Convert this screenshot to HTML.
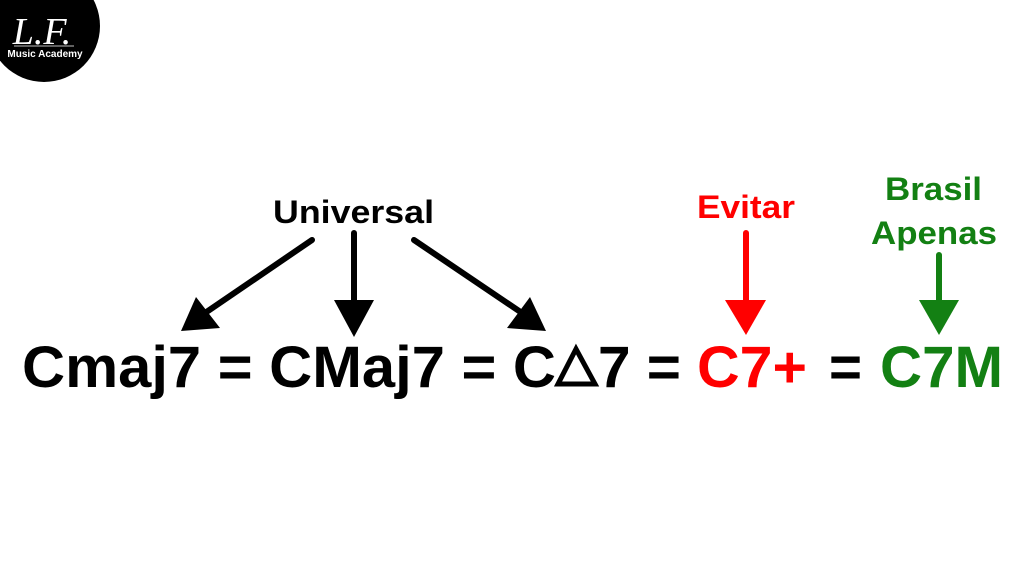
<!DOCTYPE html>
<html><head><style>
html,body{margin:0;padding:0;background:#fff;}
svg{display:block;}
text{font-family:"Liberation Sans",Arial,"DejaVu Sans",sans-serif;font-weight:bold;}
</style></head><body>
<svg width="1024" height="576" viewBox="0 0 1024 576" xmlns="http://www.w3.org/2000/svg">
<rect width="1024" height="576" fill="#fff"/>
<circle cx="44" cy="26" r="56" fill="#000"/>
<text x="42" y="44" font-size="38" fill="#fff" text-anchor="middle" style="font-family:'Liberation Serif',serif;font-weight:normal;font-style:italic">L.F.</text>
<line x1="14" y1="46" x2="74" y2="46" stroke="#fff" stroke-width="0.8"/>
<text x="45" y="57" font-size="10" fill="#fff" text-anchor="middle">Music Academy</text>

<g stroke="#000" stroke-width="6" stroke-linecap="round">
<line x1="312" y1="240" x2="205" y2="313"/>
<line x1="354" y1="233" x2="354" y2="305"/>
<line x1="414" y1="240" x2="522" y2="313"/>
</g>
<polygon points="181,331 196,297 220,328" fill="#000"/>
<polygon points="334,300 374,300 354,337" fill="#000"/>
<polygon points="546,331 507,328 530,297" fill="#000"/>
<text x="273" y="223" font-size="32" fill="#000" textLength="161" lengthAdjust="spacingAndGlyphs">Universal</text>

<line x1="746" y1="233" x2="746" y2="305" stroke="#ff0000" stroke-width="6" stroke-linecap="round"/>
<polygon points="725,300 766,300 746,335" fill="#ff0000"/>
<text x="697" y="218" font-size="32" fill="#ff0000" textLength="98" lengthAdjust="spacingAndGlyphs">Evitar</text>

<line x1="939" y1="255" x2="939" y2="305" stroke="#138013" stroke-width="6" stroke-linecap="round"/>
<polygon points="919,300 959,300 939,335" fill="#138013"/>
<text x="885" y="200" font-size="32" fill="#138013" textLength="97" lengthAdjust="spacingAndGlyphs">Brasil</text>
<text x="871" y="244" font-size="32" fill="#138013" textLength="126" lengthAdjust="spacingAndGlyphs">Apenas</text>

<text x="22" y="387" font-size="58" fill="#000" textLength="534" lengthAdjust="spacingAndGlyphs">Cmaj7 = CMaj7 = C</text>
<polygon points="576,349 558,384 595,384" fill="none" stroke="#000" stroke-width="5" stroke-linejoin="miter"/>
<text x="598" y="387" font-size="58" fill="#000" textLength="83" lengthAdjust="spacingAndGlyphs">7 =</text>
<text x="697" y="387" font-size="58" fill="#ff0000" textLength="110" lengthAdjust="spacingAndGlyphs">C7+</text>
<text x="829" y="387" font-size="58" fill="#000" textLength="33" lengthAdjust="spacingAndGlyphs">=</text>
<text x="880" y="387" font-size="58" fill="#138013" textLength="123" lengthAdjust="spacingAndGlyphs">C7M</text>
</svg>
</body></html>
